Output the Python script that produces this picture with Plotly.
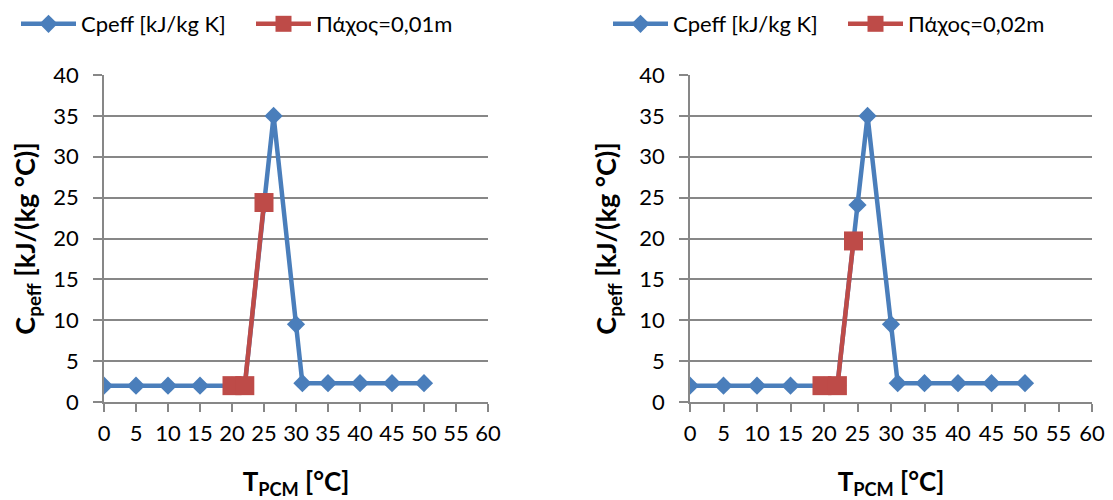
import plotly.graph_objects as go

# Data
blue_x = [0, 5, 10, 15, 20, 22, 25, 26.5, 30, 31, 35, 40, 45, 50]
blue_y = [2, 2, 2, 2, 2, 2, 24.1, 35, 9.5, 2.3, 2.3, 2.3, 2.3, 2.3]

red1_x = [20, 22, 25]
red1_y = [2, 2, 24.4]

red2_x = [19.7, 22, 24.4]
red2_y = [2, 2, 19.7]

blue_name = "Cpeff [kJ/kg K]"
red1_name = "Πάχος=0,01m"
red2_name = "Πάχος=0,02m"

x_ticks = list(range(0, 65, 5))
y_ticks = list(range(0, 45, 5))

BLUE = "#4A7EBB"
RED = "#BE4B48"
GRID = "#878787"
FONT = "Lato, 'Open Sans', sans-serif"

W, H = 1105, 492  # page body has an 8px margin

fig = go.Figure()

def add_pair(xa, ya, leg, red_x, red_y, red_name):
    fig.add_trace(go.Scatter(
        x=blue_x, y=blue_y, name=blue_name, mode="lines+markers",
        line=dict(color=BLUE, width=4.5),
        marker=dict(symbol="diamond", size=14, color=BLUE),
        xaxis=xa, yaxis=ya, legend=leg))
    fig.add_trace(go.Scatter(
        x=red_x, y=red_y, name=red_name, mode="lines+markers",
        line=dict(color=RED, width=4.5),
        marker=dict(symbol="square", size=19, color=RED),
        xaxis=xa, yaxis=ya, legend=leg))

add_pair("x", "y", "legend", red1_x, red1_y, red1_name)
add_pair("x2", "y2", "legend2", red2_x, red2_y, red2_name)

common_x = dict(range=[0, 60], tickvals=x_ticks, showgrid=False,
                showline=True, linecolor=GRID, linewidth=1.5,
                ticks="outside", ticklen=8, tickwidth=1.5, tickcolor=GRID,
                tickfont=dict(size=22, color="#000", family=FONT),
                ticklabelstandoff=3,
                title=dict(text="<b>T<sub>PCM</sub> [°C]</b>", font=dict(size=26, family=FONT, color="#000"), standoff=30),
                zeroline=False, fixedrange=True)
common_y = dict(range=[0, 40], tickvals=y_ticks, showgrid=True,
                gridcolor=GRID, gridwidth=1.5,
                showline=True, linecolor=GRID, linewidth=1.5,
                ticks="outside", ticklen=9, tickwidth=1.5, tickcolor=GRID,
                tickfont=dict(size=22, color="#000", family=FONT),
                ticklabelstandoff=10,
                title=dict(text="<b>C<sub>peff</sub> [kJ/(kg °C)]</b>", font=dict(size=27, family=FONT, color="#000"), standoff=15),
                zeroline=False, fixedrange=True)

leg_common = dict(orientation="h", xanchor="left", yanchor="top",
                  font=dict(size=22, family=FONT, color="#000"),
                  bgcolor="rgba(0,0,0,0)", itemwidth=55, tracegroupgap=0,
                  entrywidth=165)

fig.update_layout(
    width=W, height=H,
    margin=dict(l=0, r=0, t=0, b=0, autoexpand=False),
    paper_bgcolor="white", plot_bgcolor="white",
    xaxis=dict(domain=[96/W, 480/W], anchor="y", **common_x),
    yaxis=dict(domain=[1-394/H, 1-67/H], anchor="x", **common_y),
    xaxis2=dict(domain=[682/W, 1084/W], anchor="y2", **common_x),
    yaxis2=dict(domain=[1-394/H, 1-67/H], anchor="x2", **common_y),
    legend=dict(x=8/W, y=1+5/H, **leg_common),
    legend2=dict(x=600/W, y=1+5/H, **leg_common),
)

fig.write_html("out.html")
